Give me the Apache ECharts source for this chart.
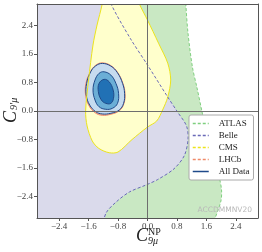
<!DOCTYPE html>
<html><head><meta charset="utf-8">
<script src="https://cdn.jsdelivr.net/npm/echarts@6/dist/echarts.min.js"></script>
<style>html,body{margin:0;padding:0;background:#fff}#c{width:262px;height:252px}</style>
</head><body><div id="c"></div>
<script>
const xTicks = [-2.4, -1.6, -0.8, 0, 0.8, 1.6, 2.4];
const yTicks = [-2.4, -1.6, -0.8, 0, 0.8, 1.6, 2.4];
const legendNames = ['ATLAS', 'Belle', 'CMS', 'LHCb', 'All Data'];

// contour curves (C9mu^NP, C9'mu)
const atlasCurve = [[1.03,3.3],[1.04,3.0],[1.10,2.18],[1.22,1.23],[1.34,0.67],[1.47,0.03],[1.56,-0.42],[1.70,-0.95],[1.84,-1.51],[1.95,-1.87],[2.01,-2.21],[2.0,-2.49],[1.92,-2.77],[1.84,-3.0],[1.80,-3.3]];
const belleCurve = [[-1.05,3.3],[-0.99,3.0],[-0.47,2.04],[0.0,1.29],[0.55,0.39],[0.81,-0.02],[1.06,-0.42],[1.10,-0.80],[1.0,-1.25],[0.72,-1.62],[0.28,-1.92],[-0.03,-2.07],[-0.49,-2.27],[-0.85,-2.55],[-1.12,-2.85],[-1.25,-3.3]];
const cmsContour = [[-1.20,3.3],[-1.23,3.0],[-1.37,2.41],[-1.48,1.85],[-1.60,0.87],[-1.68,0.0],[-1.64,-0.42],[-1.50,-0.84],[-1.32,-1.05],[-1.04,-1.17],[-0.80,-1.15],[-0.42,-0.80],[0.0,-0.45],[0.25,-0.28],[0.41,0.03],[0.55,0.39],[0.63,0.87],[0.55,1.34],[0.30,1.90],[0.0,2.55],[-0.22,3.0],[-0.32,3.3]];
const lhcbContour = [[-1.23,1.35],[-0.99,1.27],[-0.81,1.08],[-0.67,0.78],[-0.61,0.49],[-0.64,0.21],[-0.76,0.01],[-0.99,-0.09],[-1.23,-0.12],[-1.42,-0.05],[-1.59,0.15],[-1.68,0.44],[-1.67,0.78],[-1.55,1.10],[-1.41,1.28]];
const allOuter = [[-1.225,1.334],[-0.995,1.259],[-0.814,1.071],[-0.677,0.775],[-0.622,0.495],[-0.649,0.215],[-0.767,0.028],[-0.995,-0.064],[-1.225,-0.084],[-1.405,-0.02],[-1.570,0.168],[-1.663,0.448],[-1.652,0.775],[-1.542,1.099],[-1.405,1.267]];
const allMiddle = [[-1.178,1.099],[-0.995,1.007],[-0.858,0.775],[-0.786,0.495],[-0.814,0.215],[-0.951,0.076],[-1.132,0.048],[-1.315,0.120],[-1.425,0.308],[-1.479,0.587],[-1.425,0.867],[-1.315,1.055]];
const allInner = [[-1.178,0.887],[-1.041,0.820],[-0.932,0.587],[-0.923,0.355],[-0.995,0.215],[-1.132,0.215],[-1.252,0.308],[-1.334,0.540],[-1.315,0.775]];

const farLeft = [[-3.6,-3.6],[-3.6,3.6]];

function shapeSeries(points, style, type, smooth, extra) {
  return Object.assign({
    type: 'custom',
    silent: true,
    data: [0],
    renderItem: function (params, api) {
      const cs = params.coordSys;
      return {
        type: type,
        shape: { points: points.map(p => api.coord(p)), smooth: smooth, smoothConstraint: false },
        style: style,
        clipPath: { type: 'rect', shape: { x: cs.x, y: cs.y, width: cs.width, height: cs.height } }
      };
    }
  }, extra || {});
}

const serif = '"Liberation Serif", "DejaVu Serif", serif';
const fmt = v => (v < 0 ? '\u2212' : '') + Math.abs(v).toFixed(1);

const series = [
  shapeSeries(atlasCurve.concat(farLeft), { fill: '#c9e8c3', stroke: 'none' }, 'polygon', 0.3),
  shapeSeries(belleCurve.concat(farLeft), { fill: '#dadaeb', stroke: 'none' }, 'polygon', 0.3),
  shapeSeries(cmsContour, { fill: '#ffffcc', stroke: 'none' }, 'polygon', 0.3),
  shapeSeries(lhcbContour, { fill: '#fcbba1', stroke: '#f08a6a', lineWidth: 1 }, 'polygon', 0.4),
  shapeSeries(allOuter, { fill: '#c6dbef', stroke: '#1f4a8a', lineWidth: 1 }, 'polygon', 0.4),
  shapeSeries(allMiddle, { fill: '#6baed6', stroke: '#1f4a8a', lineWidth: 1 }, 'polygon', 0.4),
  shapeSeries(allInner, { fill: '#2171b5', stroke: '#1f4a8a', lineWidth: 1 }, 'polygon', 0.4),
  shapeSeries(cmsContour, { fill: 'none', stroke: '#ece41c', lineWidth: 1 }, 'polygon', 0.3),
  shapeSeries(atlasCurve, { fill: 'none', stroke: '#7fcf7f', lineWidth: 1, lineDash: [3, 2] }, 'polyline', 0.3),
  shapeSeries(belleCurve, { fill: 'none', stroke: '#6a6ab8', lineWidth: 1, lineDash: [3, 2] }, 'polyline', 0.3, {
    markLine: {
      silent: true, symbol: ['none', 'none'], label: { show: false },
      lineStyle: { color: '#6e6e6e', width: 1, type: 'solid' },
      emphasis: { disabled: true },
      data: [{ xAxis: 0 }, { yAxis: 0 }]
    }
  })
];
const legendColors = ['#7fcf7f', '#6a6ab8', '#ece41c', '#f08a6a', '#1f4a8a'];
legendNames.forEach((n, i) => {
  series.push({ type: 'line', name: n, data: [], symbol: 'none', color: legendColors[i],
    itemStyle: { color: legendColors[i] },
    lineStyle: { color: legendColors[i], width: 1, type: i < 4 ? [3, 2] : 'solid' } });
});

const axisCommon = (ticks, pos, main) => ({
  type: 'value', min: -3, max: 3, position: pos, z: 10,
  axisLine: { show: true, onZero: false, lineStyle: { color: '#555', width: 1 } },
  axisTick: { show: main, customValues: ticks, length: 3, inside: false, lineStyle: { color: '#555' } },
  axisLabel: { show: main, customValues: ticks, formatter: fmt, fontFamily: serif, fontSize: 9, color: '#444', margin: 4 },
  splitLine: { show: false }
});

const chart = echarts.init(document.getElementById('c'));
chart.setOption({
  animation: false,
  grid: { left: 37, right: 4, top: 4, bottom: 34, containLabel: false, outerBoundsMode: 'none' },
  xAxis: [axisCommon(xTicks, 'bottom', true), axisCommon(xTicks, 'top', false)],
  yAxis: [axisCommon(yTicks, 'left', true), axisCommon(yTicks, 'right', false)],
  legend: {
    data: legendNames, orient: 'vertical', left: 189, top: 115,
    itemWidth: 16, itemHeight: 9, itemGap: 3, padding: [4, 4, 4, 3],
    backgroundColor: '#fff', borderColor: '#aaa', borderWidth: 1, borderRadius: 2,
    itemStyle: { opacity: 0 },
    lineStyle: { width: 1.5, type: 'inherit', color: 'inherit' },
    textStyle: { fontFamily: serif, fontSize: 9, color: '#222', padding: [0, 0, 0, 5] },
    selectedMode: false, z: 20
  },
  graphic: [
    { type: 'text', x: 142, y: 236, z: 100, style: { text: 'C', font: 'italic 18px ' + serif, fill: '#222', align: 'center', verticalAlign: 'middle' } },
    { type: 'text', x: 148, y: 232, z: 100, style: { text: 'NP', font: '10px ' + serif, fill: '#222', align: 'left', verticalAlign: 'middle' } },
    { type: 'text', x: 148, y: 241.5, z: 100, style: { text: '9\u03bc', font: 'italic 10px ' + serif, fill: '#222', align: 'left', verticalAlign: 'middle' } },
    { type: 'group', x: 11, y: 117, rotation: Math.PI / 2, z: 100, children: [
      { type: 'text', x: 0, y: 0, style: { text: 'C', font: 'italic 18px ' + serif, fill: '#222', align: 'center', verticalAlign: 'middle' } },
      { type: 'text', x: 7, y: 3, style: { text: '9\u2032\u03bc', font: 'italic 10px ' + serif, fill: '#222', align: 'left', verticalAlign: 'middle' } }
    ] },
    { type: 'text', x: 252, y: 210.5, z: 100, style: { text: 'ACCDMMNV20', font: '7.5px "DejaVu Sans", sans-serif', fill: '#b8b8b8', align: 'right', verticalAlign: 'middle' } }
  ],
  series: series
});
</script></body></html>
